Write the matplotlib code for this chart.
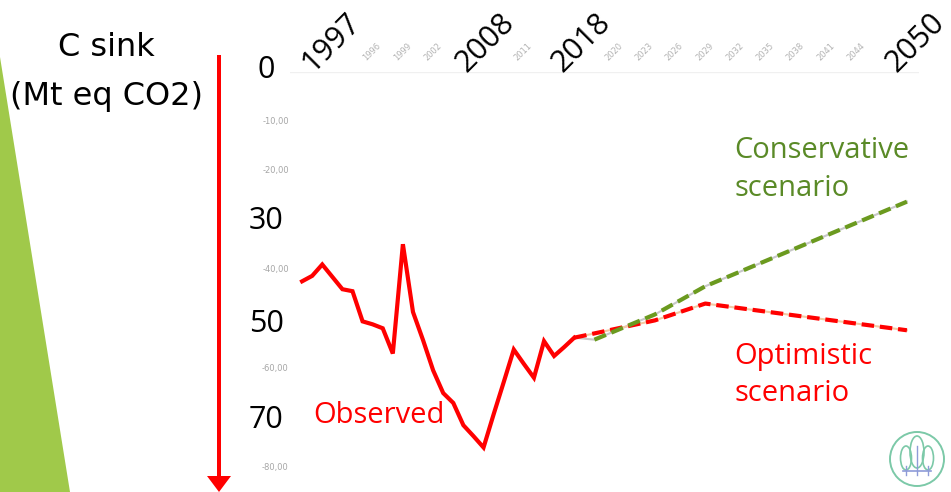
import matplotlib.pyplot as plt
from matplotlib.patches import Polygon, Circle, Ellipse, FancyArrow

W, H = 951, 492

# observed carbon sink, Mt eq CO2 (negative = sink)
years_obs = list(range(1990, 2018))
observed = [-42.4, -41.3, -39.0, -41.5, -44.0, -44.4, -50.5, -51.1, -51.9, -57.0,
            -34.9, -48.6, -54.3, -60.4, -65.0, -67.0, -71.5, -73.7, -76.0, -69.3,
            -62.8, -56.2, -59.1, -61.9, -54.5, -57.5, -55.7, -53.8]

# scenarios
years_cons = [2017, 2019, 2025, 2030, 2050]
conservative = [-53.8, -54.2, -49.1, -43.4, -26.3]
years_opt = [2017, 2020, 2025, 2030, 2050]
optimistic = [-53.8, -52.5, -50.3, -46.9, -52.3]

small_yticks = [-10, -20, -40, -60, -80]
big_ylabels = ["0", "30", "50", "70"]
big_ylabel_pos = [-1.3, -31.8, -52.7, -72.1]
small_xticks = [1996, 1999, 2002, 2011, 2020, 2023, 2026, 2029, 2032, 2035, 2038, 2041, 2044]
big_xlabels = ["1997", "2008", "2018", "2050"]
big_xlabel_pos = [1992.9, 2008.2, 2017.7, 2050.8]

RED = "#ff0000"
GREEN = "#6b9a1f"
GREEN_TXT = "#5a8a27"
GREY = "#a6a6a6"
FONT = "Open Sans"

fig = plt.figure(figsize=(W / 100, H / 100), dpi=100)

# slide decoration layer, pixel coordinates
bg = fig.add_axes([0, 0, 1, 1])
bg.set_xlim(0, W)
bg.set_ylim(H, 0)
bg.axis("off")
bg.add_patch(Polygon([[0, 57], [70, H], [0, H]], closed=True, color="#a0c94a", lw=0))
bg.add_patch(FancyArrow(219, 55, 0, 437, width=4, head_width=24, head_length=16,
                        length_includes_head=True, color=RED, lw=0))
bg.text(106, 48, "C sink", ha="center", va="center", fontsize=23, family="DejaVu Sans")
bg.text(106, 96, "(Mt eq CO2)", ha="center", va="center", fontsize=23, family="DejaVu Sans")

# logo
teal = "#7cc9a8"
bg.add_patch(Circle((917, 459), 27, fill=False, ec=teal, lw=1.4))
bg.add_patch(Ellipse((917, 452), 14, 32, fill=False, ec=teal, lw=1.2))
bg.add_patch(Ellipse((906, 458), 11, 24, fill=False, ec=teal, lw=1.2))
bg.add_patch(Ellipse((928, 458), 11, 24, fill=False, ec=teal, lw=1.2))
bg.plot([903, 931], [471, 471], color="#8e9bd8", lw=1.2)
bg.plot([917, 917], [446, 475], color="#8e9bd8", lw=1.0)
bg.plot([906, 906], [466, 475], color="#8e9bd8", lw=1.0)
bg.plot([928, 928], [466, 475], color="#8e9bd8", lw=1.0)

# chart
ax = fig.add_axes([290 / W, 0, 629 / W, (H - 71.6) / H])
ax.patch.set_alpha(0)
ax.set_xlim(1988.8, 2051.2)
ax.set_ylim(-85, 0)
for s in ax.spines.values():
    s.set_visible(False)
ax.set_xticks([])
ax.set_yticks([])
ax.axhline(0, color="#f0f0f0", lw=1)

ax.plot(years_cons, conservative, color="#c8c8c8", lw=1.5, zorder=2)
ax.plot(years_opt, optimistic, color="#f3c9a3", lw=1.5, zorder=2)
ax.plot(years_opt, optimistic, color=RED, lw=3, dashes=(3, 1.4), zorder=3)
ax.plot(years_cons[1:], conservative[1:], color=GREEN, lw=3, dashes=(3, 1.4), zorder=4)
ax.plot(years_obs, observed, color=RED, lw=3, solid_joinstyle="miter", zorder=5)

ytr = ax.get_yaxis_transform()
for v in small_yticks:
    ax.text(-0.002, v, f"{v},00", transform=ytr, ha="right", va="center",
            fontsize=6, color=GREY, family="DejaVu Sans")
for pos, lab in zip(big_ylabel_pos, big_ylabels):
    ax.text(-0.038, pos, lab, transform=ytr, ha="center", va="baseline",
            fontsize=22, family=FONT, clip_on=False)

for yr in small_xticks:
    ax.text(yr + 0.95, 4.0, str(yr), ha="center", va="center", rotation=45,
            fontsize=6, color="#b3b3b3", family="DejaVu Sans", clip_on=False)
for pos, lab in zip(big_xlabel_pos, big_xlabels):
    ax.text(pos, 5.8, lab, ha="center", va="center", rotation=45,
            fontsize=22, family=FONT, clip_on=False)

ax.text(2032.9, -17.5, "Conservative", color=GREEN_TXT, fontsize=21, family=FONT, va="baseline")
ax.text(2032.9, -25.2, "scenario", color=GREEN_TXT, fontsize=21, family=FONT, va="baseline")
ax.text(2032.9, -59.2, "Optimistic", color=RED, fontsize=21, family=FONT, va="baseline")
ax.text(2032.9, -66.7, "scenario", color=RED, fontsize=21, family=FONT, va="baseline")
ax.text(1991.1, -71.0, "Observed", color=RED, fontsize=21, family=FONT, va="baseline")

fig.savefig("out.png", dpi=100)
